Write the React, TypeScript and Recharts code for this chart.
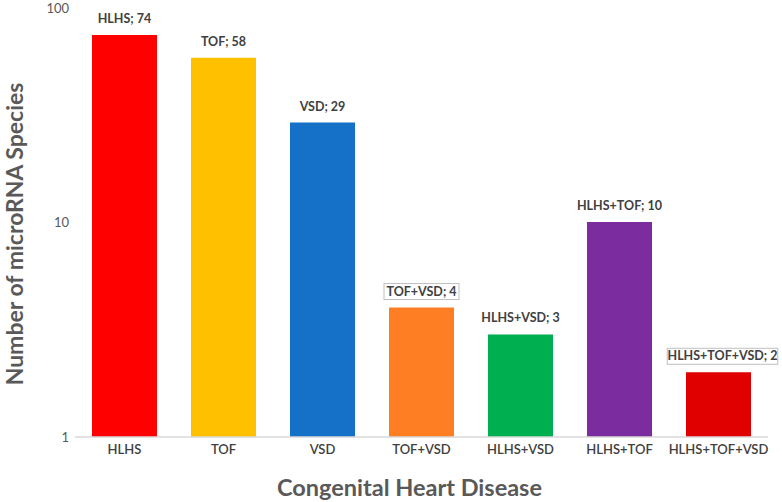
import React from "react";
import { BarChart, Bar, XAxis, YAxis, Cell, LabelList } from "recharts";

const categories = ["HLHS", "TOF", "VSD", "TOF+VSD", "HLHS+VSD", "HLHS+TOF", "HLHS+TOF+VSD"];
const counts = [74, 58, 29, 4, 3, 10, 2];
const colors = ["#FF0000", "#FFC000", "#1570C8", "#FD7E23", "#00B050", "#7B2C9E", "#E00000"];
const boxed = [false, false, false, true, false, false, true];
const yTicks = [1, 10, 100];

const data = categories.map((name, i) => ({ name, count: counts[i] }));

const FONT = "Lato, 'Open Sans', sans-serif";

const renderLabel = (props: any) => {
  const { x, y, width, value, index } = props;
  const text = `${categories[index]}; ${value}`;
  const cx = x + width / 2 + (index === 6 ? 4 : 0);
  const ty = y - 12;
  const w = text.length * 7.1 + 4;
  return (
    <g>
      {boxed[index] && (
        <rect x={cx - w / 2} y={ty - 12} width={w} height={16} fill="#fff" stroke="#bfbfbf" strokeWidth={1} />
      )}
      <text x={cx} y={ty} textAnchor="middle" fontFamily={FONT} fontSize={12.5} fontWeight="bold" fill="#404040">
        {text}
      </text>
    </g>
  );
};

const YTitle = () => (
  <text
    x={23}
    y={234}
    transform="rotate(-90 23 234)"
    textAnchor="middle"
    fontFamily={FONT}
    fontSize={23}
    fontWeight="bold"
    fill="#595959"
  >
    Number of microRNA Species
  </text>
);

export default function App() {
  return (
    <div style={{ position: "absolute", left: 0, top: 0 }}>
      <BarChart width={782} height={502} data={data} margin={{ top: 7, right: 14, bottom: 0, left: 0 }} barSize={65}>
        <XAxis
          dataKey="name"
          height={65}
          axisLine={{ stroke: "#d9d9d9", strokeWidth: 1.5 }}
          tickLine={false}
          tick={{ fontFamily: FONT, fontSize: 13, fontWeight: 600, fill: "#404040" }}
          interval={0}
          label={{ value: "Congenital Heart Disease", position: "insideBottom", offset: 6, dx: -12, style: { fontFamily: FONT, fontSize: 23.5, fontWeight: "bold", fill: "#595959" } }}
        />
        <YAxis
          scale="log"
          domain={[1, 100]}
          ticks={yTicks}
          allowDataOverflow
          width={75}
          axisLine={false}
          tickLine={false}
          tick={{ fontFamily: FONT, fontSize: 13, fill: "#595959", dx: 2 }}
          label={<YTitle />}
        />
        <Bar dataKey="count" isAnimationActive={false}>
          {data.map((d, i) => (
            <Cell key={d.name} fill={colors[i]} />
          ))}
          <LabelList dataKey="count" content={renderLabel} />
        </Bar>
      </BarChart>
    </div>
  );
}
